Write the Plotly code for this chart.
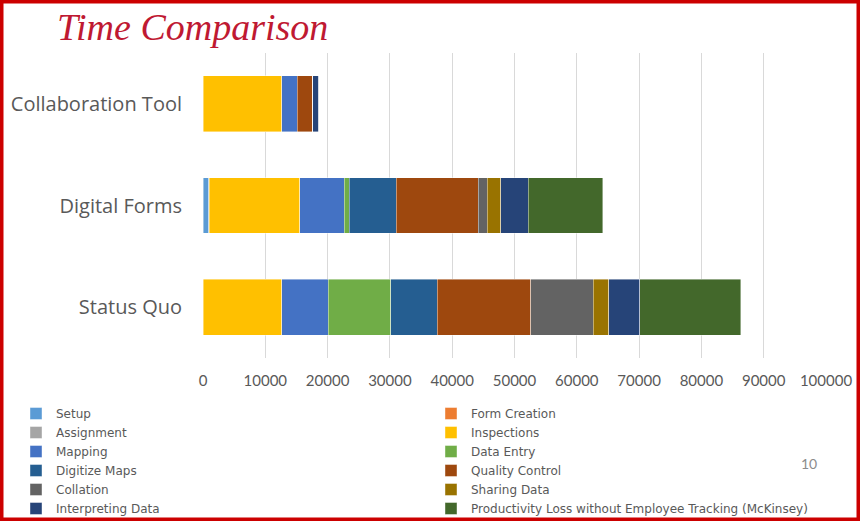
import plotly.graph_objects as go

categories = ["Status Quo", "Digital Forms", "Collaboration Tool"]
series_names = ["Setup", "Form Creation", "Assignment", "Inspections", "Mapping",
                "Data Entry", "Digitize Maps", "Quality Control", "Collation",
                "Sharing Data", "Interpreting Data",
                "Productivity Loss without Employee Tracking (McKinsey)"]
# values per series: [Status Quo, Digital Forms, Collaboration Tool]
setup = [0, 900, 0]
form_creation = [0, 100, 0]
assignment = [0, 0, 0]
inspections = [12600, 14500, 12600]
mapping = [7500, 7200, 2500]
data_entry = [10000, 800, 0]
digitize_maps = [7500, 7500, 0]
quality_control = [15000, 13200, 2500]
collation = [10000, 1400, 0]
sharing_data = [2500, 2200, 0]
interpreting_data = [5000, 4400, 1000]
productivity_loss = [16200, 12000, 0]
series_values = [setup, form_creation, assignment, inspections, mapping, data_entry,
                 digitize_maps, quality_control, collation, sharing_data,
                 interpreting_data, productivity_loss]
colors = ["#5B9BD5", "#ED7D31", "#A5A5A5", "#FFC000", "#4472C4", "#70AD47",
          "#255E91", "#9E480E", "#636363", "#997300", "#264478", "#43682B"]
x_ticks = [0, 10000, 20000, 30000, 40000, 50000, 60000, 70000, 80000, 90000, 100000]

W, H = 860, 521
L, R, T, B = 203, 34, 53, 163
pw, ph = W - L - R, H - T - B

def px(x):
    return (x - L) / pw

def py(y):
    return (H - B - y) / ph

fig = go.Figure()
for name, vals, c in zip(series_names, series_values, colors):
    fig.add_trace(go.Bar(y=categories, x=vals, name=name, orientation="h",
                         marker=dict(color=c, line=dict(color="rgba(255,255,255,0.6)", width=0.7))))

fig.update_layout(
    width=W, height=H, barmode="stack", bargap=0.45,
    margin=dict(l=L, r=R, t=T, b=B, autoexpand=False),
    paper_bgcolor="white", plot_bgcolor="white",
    font=dict(family="Open Sans", color="#595959"),
    xaxis=dict(range=[0, 100000], tickvals=x_ticks, tickformat="d", showgrid=True,
               gridcolor="#D9D9D9", gridwidth=1, zeroline=False, showline=False,
               tickfont=dict(family="Lato", size=15, color="#595959"),
               ticklabelstandoff=12, fixedrange=True),
    yaxis=dict(showgrid=False, tickfont=dict(size=20, color="#595959"), ticklabelstandoff=20,
               showline=False, zeroline=False),
    legend=dict(orientation="h", x=px(16), xanchor="left", y=py(399), yanchor="top",
                entrywidth=370, entrywidthmode="pixels", traceorder="normal",
                font=dict(family="DejaVu Sans", size=12, color="#595959"), itemwidth=30,
                tracegroupgap=0, bgcolor="rgba(0,0,0,0)"),
    showlegend=True,
)

fig.add_annotation(text="<i>Time Comparison</i>", xref="paper", yref="paper",
                   x=px(55), y=py(27), xanchor="left", yanchor="middle", showarrow=False,
                   font=dict(family="Liberation Serif", size=38, color="#BF1932"))
fig.add_annotation(text="10", xref="paper", yref="paper", x=px(809), y=py(463),
                   xanchor="center", yanchor="middle", showarrow=False,
                   font=dict(family="Lato", size=14, color="#8C8C8C"))
fig.add_shape(type="rect", xref="paper", yref="paper",
              x0=px(0), x1=px(W), y0=py(H), y1=py(0),
              line=dict(color="#CC0000", width=7), fillcolor="rgba(0,0,0,0)")

fig.write_html("out.html")
